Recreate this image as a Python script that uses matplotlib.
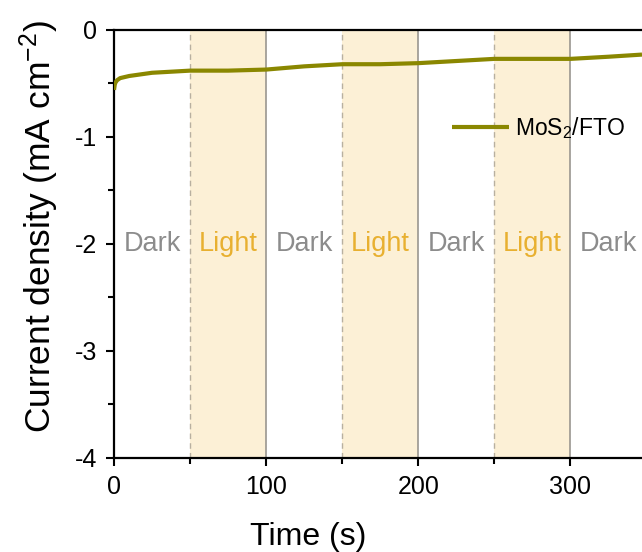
import matplotlib as mpl
import matplotlib.pyplot as plt
from matplotlib.ticker import MultipleLocator

mpl.rcParams.update({
    'font.family': ['Liberation Sans', 'DejaVu Sans'],
    'mathtext.fontset': 'custom',
    'mathtext.rm': 'Liberation Sans',
    'mathtext.it': 'Liberation Sans:italic',
    'axes.linewidth': 1.6,
    'axes.unicode_minus': False,
})

# ── Data ─────────────────────────────────────────────────────────────────────
time_s = [0, 0.5, 1, 2, 4, 10, 25, 50, 75, 100, 125, 150, 175, 200,
          225, 250, 275, 300, 325, 347]
current = [-0.56, -0.51, -0.49, -0.47, -0.45, -0.43, -0.40, -0.38, -0.38,
           -0.37, -0.34, -0.32, -0.32, -0.31, -0.29, -0.27, -0.27, -0.27,
           -0.25, -0.23]

light_on = [50, 150, 250]
light_off = [100, 200, 300]
phase_x = [25, 75, 125, 175, 225, 275, 325]
phase_txt = ['Dark', 'Light', 'Dark', 'Light', 'Dark', 'Light', 'Dark']

CURVE = '#8a8700'
SHADE = '#fcf0d6'
DARK_C = '#8c8c8c'
LIGHT_C = '#e8b030'

fig = plt.figure(figsize=(6.42, 5.52), dpi=100)
ax = fig.add_axes([0.1776, 0.1703, 0.8224, 0.7754])

for a, b in zip(light_on, light_off):
    ax.axvspan(a, b, color=SHADE, lw=0, zorder=0)
    ax.axvline(a, color='#b8b0a0', ls=(0, (4, 3)), lw=1.0, zorder=1)
    ax.axvline(b, color='#9a9690', ls='-', lw=1.2, zorder=1)

for x, t in zip(phase_x, phase_txt):
    ax.text(x, -2.0, t, ha='center', va='center', fontsize=19.5,
            color=DARK_C if t == 'Dark' else LIGHT_C)

ax.plot(time_s, current, color=CURVE, lw=3, label='MoS$_2$/FTO', zorder=3,
        solid_capstyle='butt')

ax.set_xlim(0, 347)
ax.set_ylim(-4, 0)
ax.xaxis.set_major_locator(MultipleLocator(100))
ax.xaxis.set_minor_locator(MultipleLocator(50))
ax.yaxis.set_major_locator(MultipleLocator(1))
ax.yaxis.set_minor_locator(MultipleLocator(0.5))
ax.tick_params(which='both', direction='out', width=1.5, labelsize=18)
ax.tick_params(which='major', length=6, pad=6)
ax.tick_params(which='minor', length=4)
ax.spines['right'].set_visible(False)

ax.set_xlabel('Time (s)', fontsize=23)
ax.xaxis.set_label_coords(0.367, -0.15)
ax.set_ylabel('Current density (mA cm$^{-2}$)', fontsize=25.5)
ax.yaxis.set_label_coords(-0.101, 0.54)

ax.legend(loc='center left', bbox_to_anchor=(0.64, 0.771), frameon=False,
          fontsize=16.5, handlelength=2.5, handletextpad=0.25,
          borderpad=0, borderaxespad=0)

fig.savefig('out.png', dpi=100, facecolor='white')
